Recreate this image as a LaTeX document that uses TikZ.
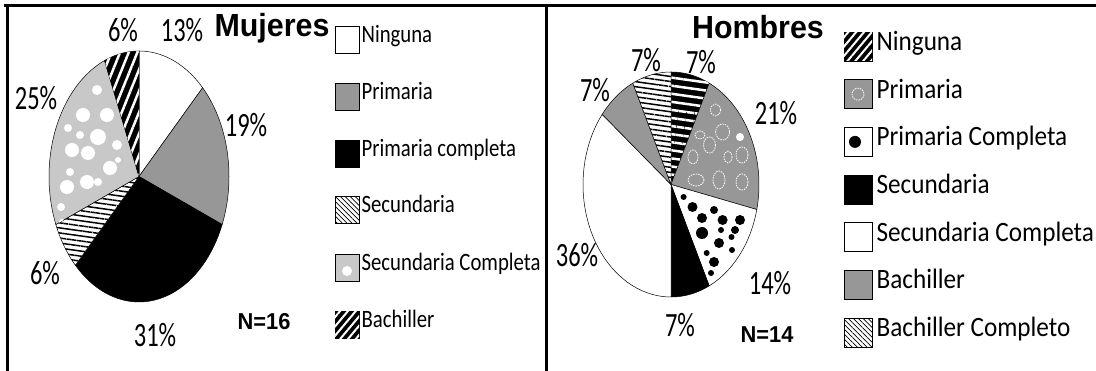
\documentclass[tikz,border=0pt]{standalone}
\usepackage{fontspec}
\newfontfamily\pctfont[FakeStretch=0.72]{Carlito}
\newfontfamily\legLfont[FakeStretch=0.83]{Carlito}
\newfontfamily\legRfont[FakeStretch=0.9]{Carlito}
\newfontfamily\ttlfont[FakeStretch=0.95]{Liberation Sans}
\usetikzlibrary{positioning,patterns.meta}
\definecolor{midgray}{HTML}{979797}
\definecolor{ltgray}{HTML}{C8C8C8}
% one slice of a squashed pie: cx, cy, rx, ry, from, to, style
\newcommand{\pieslice}[7]{\filldraw[#7] (#1,#2) -- plot[domain=#5:#6,samples=40] ({#1+#3*cos(\x)},{#2-#4*sin(\x)}) -- cycle;}
\newcommand{\pieclip}[6]{\clip (#1,#2) -- plot[domain=#5:#6,samples=40] ({#1+#3*cos(\x)},{#2-#4*sin(\x)}) -- cycle;}
\tikzset{
  pct/.style={font=\pctfont\fontsize{34}{36}\selectfont, inner sep=0pt},
  ttl/.style={font=\ttlfont\bfseries\fontsize{32}{34}\selectfont, inner sep=0pt},
  ncount/.style={font=\ttlfont\bfseries\fontsize{23}{25}\selectfont, inner sep=0pt},
  legL/.style={font=\legLfont\fontsize{25}{27}\selectfont, inner sep=0pt, anchor=base west},
  legR/.style={font=\legRfont\fontsize{28}{30}\selectfont, inner sep=0pt, anchor=base west},
  keyL/.style={draw=black, line width=0.8pt, minimum width=24pt, minimum height=27pt, inner sep=0pt},
  keyR/.style={draw=black, line width=0.8pt, minimum width=28pt, minimum height=29pt, inner sep=0pt},
  wedge/.style={draw=black, line width=0.5pt},
  frame/.style={line width=3pt},
  whitestripes/.style={fill=black, postaction={pattern color=white, pattern={Lines[angle=#1,distance=8pt,line width=2.5pt]}}},
  blacklines/.style={fill=white, postaction={pattern color=black, pattern={Lines[angle=#1,distance=5pt,line width=1.5pt]}}},
  thinlines/.style={fill=white, postaction={pattern color=black, pattern={Lines[angle=-45,distance=3.5pt,line width=0.7pt]}}},
  keystripes/.style={fill=black, postaction={pattern color=white, pattern={Lines[angle=50,distance=6pt,line width=2pt]}}},
  hole/.style={white, dash pattern=on 1.5pt off 1pt, line width=0.8pt}
}
\begin{document}
\begin{tikzpicture}[x=1pt,y=-1pt]
\useasboundingbox (0,0) rectangle (1096,371);
% frame
\coordinate (tl) at (4,6);
\coordinate (tr) at (1096,6);
\draw[frame] (tl) -- (tr);
\draw[frame] (7,6) -- (7,371);
\draw[frame] (546.5,6) -- (546.5,371);

% Mujeres pie
\pieslice{139}{176.5}{90}{125.5}{90}{45}{wedge,fill=white}
\pieslice{139}{176.5}{90}{125.5}{45}{-22.5}{wedge,fill=midgray}
\pieslice{139}{176.5}{90}{125.5}{-22.5}{-135}{wedge,fill=black}
\pieslice{139}{176.5}{90}{125.5}{-135}{-157.5}{wedge,blacklines=-8}
\pieslice{139}{176.5}{90}{125.5}{-157.5}{-247.5}{wedge,fill=ltgray}
\pieslice{139}{176.5}{90}{125.5}{-247.5}{-270}{wedge,whitestripes=68}
\begin{scope}
  \pieclip{139}{176.5}{90}{125.5}{-157.5}{-247.5}
  \foreach \px/\py/\r in {97/90/5, 83/115/7, 107/115/7, 68/128/4, 80/135/4, 98/137/8,
      117/145/5, 72/150/7, 88/153/7, 110/168/7, 70/172/4, 87/182/7, 98/182/4,
      67/187/7, 118/160/3, 61/207/4, 62/222/3}
    \fill[white] (\px,\py) circle (\r);
\end{scope}

\begin{scope}[every node/.style={pct}]
  \node (m6a) at (123,30) {6\%};
  \node (m13) at (182,30) {13\%};
  \node (m25) at (36,98) {25\%};
  \node (m19) at (246,125) {19\%};
  \node (m6b) at (45,273) {6\%};
  \node (m31) at (155,335) {31\%};
\end{scope}
\node[ttl] (mtit) at (272,28) {Mujeres};
\node[ncount] (mn) at (264,322) {N=16};

% Mujeres legend
\node[keyL, fill=white] (kL1) at (347,40) {};
\node[keyL, fill=midgray] (kL2) at (347,97) {};
\node[keyL, fill=black] (kL3) at (347,154) {};
\node[keyL, thinlines] (kL4) at (347,210) {};
\node[keyL, fill=ltgray] (kL5) at (347,268) {};
\node[keyL, keystripes] (kL6) at (347,325) {};
\fill[white] ([yshift=-3pt]kL5.center) circle (5);
\node[legL] (tL1) at ([shift={(2,3)}]kL1.east) {Ninguna};
\node[legL] (tL2) at ([shift={(2,3)}]kL2.east) {Primaria};
\node[legL] (tL3) at ([shift={(2,3)}]kL3.east) {Primaria completa};
\node[legL] (tL4) at ([shift={(2,3)}]kL4.east) {Secundaria};
\node[legL] (tL5) at ([shift={(2,3)}]kL5.east) {Secundaria Completa};
\node[legL] (tL6) at ([shift={(2,3)}]kL6.east) {Bachiller};

% Hombres pie
\pieslice{671}{184.5}{88}{112.5}{90}{64.286}{wedge,whitestripes=-8}
\pieslice{671}{184.5}{88}{112.5}{64.286}{-12.857}{wedge,fill=midgray}
\pieslice{671}{184.5}{88}{112.5}{-12.857}{-64.286}{wedge,fill=white}
\pieslice{671}{184.5}{88}{112.5}{-64.286}{-90}{wedge,fill=black}
\pieslice{671}{184.5}{88}{112.5}{-90}{-218.571}{wedge,fill=white}
\pieslice{671}{184.5}{88}{112.5}{-218.571}{-244.286}{wedge,fill=midgray}
\pieslice{671}{184.5}{88}{112.5}{-244.286}{-270}{wedge,blacklines=-8}
\begin{scope}
  \pieclip{671}{184.5}{88}{112.5}{64.286}{-12.857}
  \foreach \px/\py/\ea/\eb in {715.5/110/5/6, 722.6/132/7/8, 700/135/5/4, 709.5/145/6/8,
      693/157/5/7, 728/157/4/6, 742/155/6/8, 719/180/6/9, 696/180/8/6, 742/182/6/8}
    \draw[hole] (\px,\py) ellipse [x radius=\ea, y radius=\eb];
  \fill[white] (740,137) circle (4);
\end{scope}
\begin{scope}
  \pieclip{671}{184.5}{88}{112.5}{-12.857}{-64.286}
  \foreach \px/\py/\r in {683.6/197/3, 692.5/207/5, 714/210/4, 702/218/5, 722.6/220/5,
      740/220/5, 702/233/6, 721/230/3, 735/230/4, 719/243/5, 731.5/237/3,
      714/262/5, 732/250/3, 706.7/253/3, 711/273/3}
    \fill[black] (\px,\py) circle (\r);
\end{scope}

\begin{scope}[every node/.style={pct}]
  \node (h7a) at (646,60) {7\%};
  \node (h7b) at (701,62) {7\%};
  \node (h7c) at (595,90) {7\%};
  \node (h21) at (776,113) {21\%};
  \node (h36) at (577,255) {36\%};
  \node (h14) at (770,283) {14\%};
  \node (h7d) at (680,325) {7\%};
\end{scope}
\node[ttl] (htit) at (758,27) {Hombres};
\node[ncount] (hn) at (767,335) {N=14};

% Hombres legend
\node[keyR, keystripes] (kR1) at (858,46.5) {};
\node[keyR, fill=midgray] (kR2) at (858,94.2) {};
\node[keyR, fill=white] (kR3) at (858,141.9) {};
\node[keyR, fill=black] (kR4) at (858,189.6) {};
\node[keyR, fill=white] (kR5) at (858,237.3) {};
\node[keyR, fill=midgray] (kR6) at (858,285) {};
\node[keyR, thinlines] (kR7) at (858,332.7) {};
\draw[hole] (kR2.center) circle (6);
\fill[black] ([xshift=-3pt]kR3.center) circle (6);
\node[legR] (tR1) at ([shift={(4,4)}]kR1.east) {Ninguna};
\node[legR] (tR2) at ([shift={(4,4)}]kR2.east) {Primaria};
\node[legR] (tR3) at ([shift={(4,4)}]kR3.east) {Primaria Completa};
\node[legR] (tR4) at ([shift={(4,4)}]kR4.east) {Secundaria};
\node[legR] (tR5) at ([shift={(4,4)}]kR5.east) {Secundaria Completa};
\node[legR] (tR6) at ([shift={(4,4)}]kR6.east) {Bachiller};
\node[legR] (tR7) at ([shift={(4,4)}]kR7.east) {Bachiller Completo};
\end{tikzpicture}
\end{document}
